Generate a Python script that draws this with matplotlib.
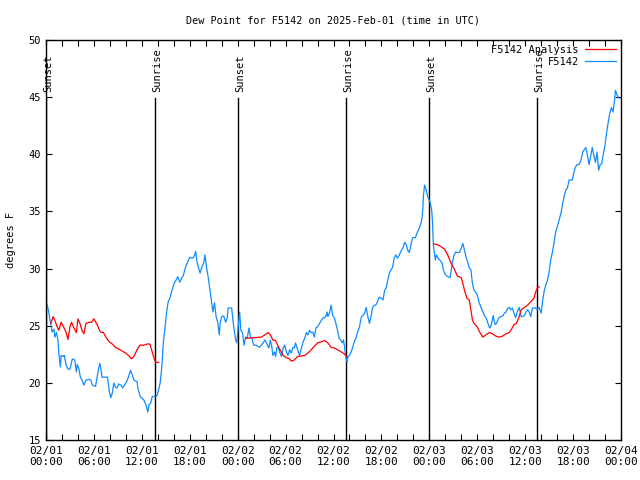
import numpy as np
import matplotlib
matplotlib.use('Agg')
import matplotlib.pyplot as plt

# time in hours since 2025-02-01 00:00 UTC
obs_hours = [0.1, 0.3, 0.5, 0.6, 0.75, 1.0, 1.1, 1.3, 1.5, 1.6, 1.8, 1.9, 2.2, 2.3, 2.5, 2.75, 3.0, 3.3, 3.6, 3.8,
             3.9, 4.1, 4.3, 4.5, 4.75, 5.0, 5.4, 5.6, 5.8, 6.2, 6.4, 6.6, 6.75, 6.9, 7.0, 7.7, 7.9, 8.1, 8.3, 8.5,
             8.7, 8.9, 9.1, 9.4, 9.6, 10.0, 10.2, 10.4, 10.6, 10.8, 11.0, 11.4, 11.5, 11.8, 12.25, 12.5, 12.75, 12.9, 13.1, 13.3,
             13.9, 14.1, 14.3, 14.5, 14.7, 14.9, 15.1, 15.3, 15.5, 15.7, 15.9, 16.1, 16.3, 16.5, 16.75, 17.0, 17.2, 17.5, 17.7, 18.0,
             18.3, 18.5, 18.75, 18.9, 19.1, 19.3, 19.5, 19.75, 19.9, 20.1, 20.3, 20.5, 20.7, 20.9, 21.1, 21.3, 21.5, 21.7, 21.8, 22.0,
             22.25, 22.5, 22.7, 22.8, 23.25, 23.4, 23.6, 23.75, 23.9, 24.1, 24.25, 24.4, 24.6, 24.8, 25.0, 25.2, 25.4, 25.6, 25.8, 26.0,
             26.3, 26.7, 26.95, 27.2, 27.4, 27.6, 27.9, 28.1, 28.3, 28.4, 28.6, 28.75, 28.9, 29.1, 29.25, 29.5, 29.7, 29.9, 30.1, 30.3,
             30.5, 30.7, 30.9, 31.1, 31.25, 31.5, 31.75, 32.0, 32.2, 32.4, 32.6, 32.8, 33.0, 33.2, 33.4, 33.6, 33.8, 34.0, 34.25, 34.5,
             34.7, 34.9, 35.1, 35.2, 35.3, 35.5, 35.7, 35.9, 36.1, 36.3, 36.5, 36.7, 36.9, 37.1, 37.25, 37.4, 37.5, 37.7, 37.8, 38.0,
             38.2, 38.4, 38.6, 38.8, 39.0, 39.25, 39.5, 39.7, 39.9, 40.1, 40.3, 40.5, 40.7, 40.9, 41.1, 41.3, 41.5, 41.75, 42.0, 42.2,
             42.4, 42.6, 42.8, 43.0, 43.2, 43.4, 43.6, 43.8, 44.0, 44.25, 44.5, 44.7, 44.9, 45.1, 45.3, 45.5, 45.7, 45.9, 46.25, 46.5,
             46.75, 47.0, 47.1, 47.2, 47.25, 47.4, 47.6, 47.8, 48.1, 48.3, 48.4, 48.5, 48.75, 48.9, 49.1, 49.3, 49.6, 49.75, 49.9, 50.1,
             50.3, 50.6, 50.75, 50.9, 51.1, 51.3, 51.5, 51.75, 52.0, 52.2, 52.4, 52.6, 52.8, 53.0, 53.2, 53.4, 53.6, 53.8, 54.0, 54.25,
             54.5, 54.7, 54.9, 55.1, 55.3, 55.5, 55.6, 55.8, 56.0, 56.1, 56.25, 56.4, 56.7, 56.95, 57.2, 57.4, 57.6, 57.8, 58.0, 58.2,
             58.4, 58.6, 58.8, 59.0, 59.25, 59.5, 59.7, 59.9, 60.1, 60.3, 60.5, 60.7, 60.9, 61.3, 61.5, 61.75, 62.0, 62.2, 62.4, 62.6,
             62.8, 63.0, 63.2, 63.4, 63.6, 63.8, 64.0, 64.25, 64.5, 64.7, 64.9, 65.1, 65.3, 65.5, 65.9, 66.1, 66.3, 66.5, 66.75, 67.0,
             67.2, 67.4, 67.6, 67.8, 68.0, 68.2, 68.4, 68.6, 68.8, 69.0, 69.2, 69.4, 69.6, 69.75, 70.0, 70.2, 70.4, 70.6, 70.8, 71.0,
             71.2, 71.3, 71.5, 71.75]
obs_dewpt = [26.9, 26.4, 25.5, 25.2, 24.45, 24.7, 24.0, 24.4, 23.75, 22.6, 21.4, 22.4, 22.3, 22.4, 21.6, 21.2, 21.2, 22.1, 22.0, 20.95,
             21.6, 21.3, 20.5, 20.25, 19.8, 20.25, 20.3, 20.25, 19.8, 19.7, 20.5, 21.3, 21.7, 21.1, 20.5, 20.5, 19.4, 18.7, 19.1, 20.0,
             19.6, 19.55, 19.9, 19.8, 19.55, 20.0, 20.25, 20.7, 21.1, 20.7, 20.25, 20.1, 19.55, 18.8, 18.5, 18.1, 17.45, 18.1, 18.2, 18.8,
             18.85, 19.4, 20.0, 21.4, 23.6, 24.8, 26.2, 27.1, 27.4, 27.9, 28.4, 28.8, 29.0, 29.3, 28.8, 29.2, 29.4, 30.2, 30.5, 31.0,
             30.9, 31.0, 31.5, 30.6, 30.05, 29.6, 30.1, 30.5, 31.2, 30.1, 29.3, 28.3, 27.25, 26.2, 27.0, 25.8, 25.3, 24.2, 25.2, 25.8,
             25.85, 25.3, 25.7, 26.55, 26.55, 25.5, 24.45, 23.75, 23.5, 25.2, 26.2, 24.6, 24.4, 23.3, 24.0, 23.9, 24.8, 24.0, 23.9, 23.3,
             23.3, 23.1, 23.3, 23.5, 23.75, 23.5, 23.05, 23.75, 23.05, 22.4, 22.7, 22.3, 23.1, 23.05, 22.7, 22.3, 23.05, 23.3, 22.7, 22.4,
             22.9, 22.6, 23.1, 23.05, 23.5, 22.9, 22.4, 23.1, 23.6, 23.9, 24.4, 24.2, 24.6, 24.4, 24.45, 24.0, 24.8, 24.9, 25.2, 25.5,
             25.7, 25.7, 25.9, 26.2, 25.8, 26.1, 26.8, 25.9, 25.7, 25.2, 24.6, 23.9, 23.75, 23.5, 23.75, 23.05, 22.4, 21.8, 22.3, 22.4,
             22.7, 23.1, 23.6, 23.9, 24.4, 24.9, 25.8, 25.9, 26.1, 26.6, 25.8, 25.2, 25.8, 26.6, 26.8, 26.8, 27.1, 27.5, 27.4, 27.25,
             28.1, 28.3, 29.0, 29.6, 29.9, 30.1, 30.9, 31.2, 30.9, 31.2, 31.6, 31.8, 32.3, 32.1, 31.6, 31.4, 32.1, 32.7, 32.7, 33.2,
             33.55, 34.1, 34.5, 35.4, 36.3, 37.3, 36.9, 36.3, 35.8, 35.1, 34.0, 32.1, 30.75, 31.2, 30.9, 30.75, 30.5, 29.9, 29.6, 29.4,
             29.3, 29.2, 29.9, 30.6, 31.2, 31.45, 31.4, 31.4, 31.8, 32.2, 31.6, 31.0, 30.6, 30.05, 29.9, 28.7, 28.1, 27.95, 27.7, 27.0,
             26.55, 26.2, 25.9, 25.7, 25.3, 24.9, 24.8, 25.2, 25.9, 25.5, 25.1, 25.2, 25.7, 25.8, 25.85, 26.1, 26.2, 26.5, 26.6, 26.4,
             26.55, 26.1, 25.7, 26.2, 26.6, 25.8, 25.8, 25.9, 26.2, 26.4, 26.2, 25.8, 26.55, 26.55, 26.4, 26.6, 26.1, 27.25, 28.1, 28.6,
             29.0, 29.7, 30.75, 31.4, 32.2, 33.1, 33.6, 34.25, 34.9, 35.7, 36.4, 36.9, 37.05, 37.75, 37.75, 38.4, 38.9, 39.1, 39.1, 39.5,
             40.2, 40.4, 40.6, 39.9, 39.1, 39.8, 40.6, 39.9, 39.3, 40.2, 38.6, 39.1, 39.2, 39.9, 40.8, 41.9, 42.8, 43.6, 44.1, 43.7,
             44.75, 45.6, 45.2, 44.9]

# analysis series (NaN separates the three nights)
ana_hours = [0.6, 0.9, 1.2, 1.4, 1.6, 1.9, 2.2, 2.5, 2.75, 3.0, 3.2, 3.5, 3.8, 4.0, 4.25, 4.5, 4.75, 5.0, 5.4, 5.7,
             6.0, 6.4, 6.8, 7.2, 7.5, 7.9, 8.3, 8.7, 9.1, 9.5, 10.0, 10.4, 10.7, 11.0, 11.4, 11.75, 12.25, 12.7, 13.0, 13.3,
             13.6, 13.75, 14.1, 14.2,
             25.0, 26.95, 27.4, 27.8, 28.1, 28.4, 28.75, 29.0, 29.3, 29.7, 30.1, 30.5, 30.7, 31.1, 31.5, 32.0, 32.4, 32.8, 33.2, 33.6,
             34.0, 34.5, 34.9, 35.3, 35.7, 36.1, 36.5, 37.0, 37.4, 37.7, 37.8,
             48.6, 49.0, 49.5, 49.9, 50.3, 50.7, 51.1, 51.5, 52.0, 52.2, 52.4, 52.7, 53.0, 53.2, 53.4, 53.6, 54.0, 54.3, 54.7, 55.1,
             55.5, 55.9, 56.3, 56.75, 57.2, 57.6, 58.0, 58.3, 58.6, 58.9, 59.25, 59.5, 59.9, 60.3, 60.7, 61.1, 61.3, 61.5, 61.75]
ana_dewpt = [25.2, 25.8, 25.3, 24.9, 24.6, 25.3, 24.9, 24.45, 23.8, 24.9, 25.3, 24.8, 24.4, 25.6, 25.2, 24.6, 24.3, 25.2, 25.3, 25.3,
             25.6, 25.1, 24.45, 24.4, 24.0, 23.6, 23.4, 23.1, 22.96, 22.8, 22.6, 22.35, 22.1, 22.3, 22.9, 23.3, 23.3, 23.4, 23.4, 22.7,
             22.0, 21.8, 21.8, np.nan,
             23.9, 24.0, 24.2, 24.4, 24.2, 23.75, 23.7, 23.3, 22.9, 22.4, 22.2, 22.1, 21.9, 22.0, 22.3, 22.35, 22.4, 22.6, 22.9, 23.2,
             23.5, 23.6, 23.7, 23.5, 23.1, 23.05, 22.9, 22.7, 22.5, 22.3, np.nan,
             32.15, 32.1, 31.9, 31.7, 31.2, 30.5, 30.0, 29.35, 29.2, 28.7, 28.1, 27.4, 27.25, 26.4, 25.5, 25.2, 24.9, 24.45, 24.0, 24.2,
             24.4, 24.3, 24.1, 24.0, 24.1, 24.3, 24.4, 24.7, 25.1, 25.2, 25.8, 26.4, 26.6, 26.8, 27.1, 27.4, 27.9, 28.3, 28.4]

sun_hours = [0.0, 13.6, 24.0, 37.6, 48.0, 61.5]
sun_labels = ['Sunset', 'Sunrise', 'Sunset', 'Sunrise', 'Sunset', 'Sunrise']

tick_hours = [0, 6, 12, 18, 24, 30, 36, 42, 48, 54, 60, 66, 72]
tick_labels = ['02/01\n00:00', '02/01\n06:00', '02/01\n12:00', '02/01\n18:00',
               '02/02\n00:00', '02/02\n06:00', '02/02\n12:00', '02/02\n18:00',
               '02/03\n00:00', '02/03\n06:00', '02/03\n12:00', '02/03\n18:00',
               '02/04\n00:00']

plt.rcParams['font.family'] = 'DejaVu Sans Mono'
plt.rcParams['font.size'] = 7.5

fig = plt.figure(figsize=(6.4, 4.8), dpi=100)
ax = fig.add_axes([46 / 640, 40 / 480, 575 / 640, 400 / 480])

for h, lab in zip(sun_hours, sun_labels):
    ax.plot([h, h], [15, 44.9], color='black', lw=1.0, zorder=1)
    ax.text(h + 0.3, 45.45, lab, rotation=90, ha='center', va='bottom', fontsize=7.5)

ax.plot(ana_hours, ana_dewpt, color='#ff0000', lw=0.9, label='F5142 Analysis', zorder=3)
ax.plot(obs_hours, obs_dewpt, color='#0f8cff', lw=0.9, label='F5142', zorder=2)

ax.set_xlim(0, 72)
ax.set_ylim(15, 50)
ax.set_xticks(tick_hours)
ax.set_xticklabels(tick_labels)
ax.set_xticks(np.arange(0, 73, 2), minor=True)
ax.set_yticks([15, 20, 25, 30, 35, 40, 45, 50])
ax.tick_params(which='both', direction='in', top=True, right=True, length=4.5, width=0.8, labelsize=7.5)
ax.tick_params(axis='x', labelsize=8, pad=4)
for s in ax.spines.values():
    s.set_linewidth(1.0)

ax.set_title('Dew Point for F5142 on 2025-Feb-01 (time in UTC)', fontsize=7.3, pad=12)
ax.set_ylabel('degrees F', fontsize=7.5, labelpad=9)

leg = ax.legend(loc='upper right', frameon=False, fontsize=7.5, markerfirst=False,
                handlelength=3.0, borderaxespad=0.05, labelspacing=0.2, handletextpad=0.6)

fig.savefig('out.png', dpi=100)
